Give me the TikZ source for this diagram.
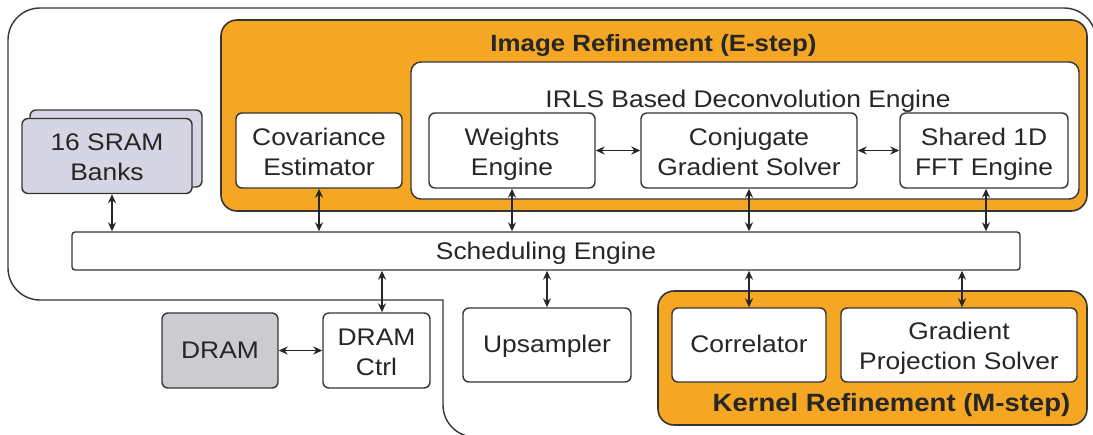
\documentclass[tikz,border=0pt]{standalone}
\usepackage{fontspec}
\setmainfont{Liberation Sans}[FakeStretch=1.1]
\usetikzlibrary{arrows.meta}

\definecolor{stepfill}{HTML}{F5A623}
\definecolor{edge}{HTML}{353535}
\definecolor{sramfill}{HTML}{D5D5E3}
\definecolor{dramfill}{HTML}{CBCBD0}
\definecolor{ink}{HTML}{262626}

\tikzset{
  blk/.style={draw=edge, line width=1.4pt, rounded corners=6pt, fill=white,
    align=center, inner sep=0pt, text=ink, font=\fontsize{24}{30}\selectfont},
  % fixed label boxes so that every label sits alike in its box
  oneline/.style={text height=15pt, text depth=0pt},
  twoline/.style={text height=49pt, text depth=0pt},
  stage/.style={draw=edge, line width=1.6pt, rounded corners=16pt,
    fill=stepfill, inner sep=0pt},
  link/.style={line width=1.5pt, draw=ink,
    {Stealth[length=9pt,width=8pt]}-{Stealth[length=9pt,width=8pt]}},
  heading/.style={anchor=base, inner sep=0pt, text=ink},
  plaintext/.style={anchor=base, inner sep=0pt, text=ink,
    font=\fontsize{24}{30}\selectfont},
}

\begin{document}
\begin{tikzpicture}[x=1pt, y=-1pt]
\clip (0,0) rectangle (1093,434);

% chip outline
\draw[draw=edge, line width=1.4pt]
  (1096,470) [rounded corners=32pt] -- (1096,8) -- (8,8)
  [rounded corners=32pt] -- (8,300) [sharp corners] -- (443,300)
  [rounded corners=32pt] -- (443,437) -- (560,437);

% image refinement stage
\node[stage, minimum width=866, minimum height=191] (estep) at (654,115.5) {};
\node[heading, font=\bfseries\fontsize{23.5}{28}\selectfont] (etitle) at (653.5,51)
  {Image Refinement (E-step)};
\node[blk, rounded corners=10pt, minimum width=668, minimum height=137] (irls) at (745,130.5) {};
\node[plaintext] (irlstitle) at (748,107) {IRLS Based Deconvolution Engine};

\node[blk, twoline, minimum width=166, minimum height=75] (cov) at (319,150.5) {Covariance\\Estimator};
\node[blk, twoline, minimum width=166, minimum height=75] (wgt) at (512,150.5) {Weights\\Engine};
\node[blk, twoline, minimum width=216, minimum height=75] (cgs) at (749,150.5) {Conjugate\\Gradient Solver};
\node[blk, twoline, minimum width=168, minimum height=75] (fft) at (984,150.5) {Shared 1D\\FFT Engine};

% memories
\node[blk, fill=sramfill, minimum width=172, minimum height=77] (sramback) at (116,148.5) {};
\node[blk, twoline, fill=sramfill, minimum width=170, minimum height=75] (sram) at (107,156) {16 SRAM\\Banks};

% scheduler
\node[draw=edge, line width=1.4pt, rounded corners=3pt, fill=white, inner sep=0pt,
  minimum width=948, minimum height=38, text=ink, font=\fontsize{24}{30}\selectfont,
  text height=17.2pt, text depth=0pt] (sched) at (546,251) {Scheduling Engine};

% lower row
\node[blk, oneline, fill=dramfill, minimum width=116, minimum height=75] (dram) at (220,350.5) {DRAM};
\node[blk, twoline, minimum width=107, minimum height=75] (ctrl) at (376.5,350.5) {DRAM\\Ctrl};
\node[blk, oneline, minimum width=168, minimum height=74] (ups) at (547,345) {Upsampler};

% kernel refinement stage
\node[stage, minimum width=429, minimum height=134] (mstep) at (872.5,358) {};
\node[blk, oneline, minimum width=154, minimum height=74] (corr) at (749,345) {Correlator};
\node[blk, twoline, minimum width=236, minimum height=74] (gps) at (959,345) {Gradient\\Projection Solver};
\node[heading, font=\bfseries\fontsize{25}{30}\selectfont] (mtitle) at (891.5,411)
  {Kernel Refinement (M-step)};

% ports
\coordinate (sramport) at ([xshift=5pt]sram.south);
\coordinate (fftport) at ([xshift=2pt]fft.south);
\coordinate (ctrlport) at ([xshift=5.5pt]ctrl.north);
\coordinate (gpsport) at ([xshift=3pt]gps.north);

% connections
\draw[link] (sramport) -- (sramport |- sched.north);
\draw[link] (cov.south) -- (cov.south |- sched.north);
\draw[link] (wgt.south) -- (wgt.south |- sched.north);
\draw[link] (cgs.south) -- (cgs.south |- sched.north);
\draw[link] (fftport) -- (fftport |- sched.north);
\draw[link] (wgt.east) -- (cgs.west);
\draw[link] (cgs.east) -- (fft.west);
\draw[link] (sched.south -| ctrlport) -- (ctrlport);
\draw[link] (sched.south -| ups.north) -- (ups.north);
\draw[link] (sched.south -| corr.north) -- (corr.north);
\draw[link] (sched.south -| gpsport) -- (gpsport);
\draw[link] (dram.east) -- (ctrl.west);
\end{tikzpicture}
\end{document}
